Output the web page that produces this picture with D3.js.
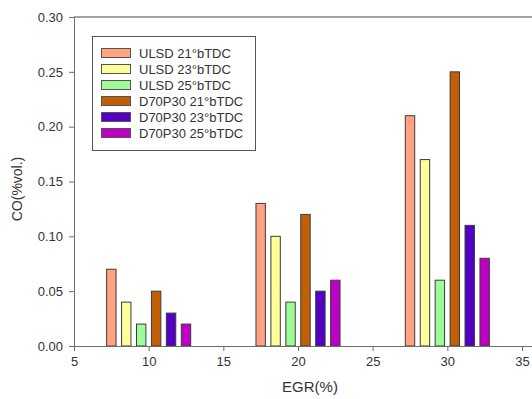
<!DOCTYPE html>
<html>
<head>
<meta charset="utf-8">
<script src="https://cdn.jsdelivr.net/npm/d3@7"></script>
<style>
  body { margin: 0; background: #fff; }
  text { font-family: "Liberation Sans", Arial, sans-serif; }
</style>
</head>
<body>
<div id="chart"></div>
<script>
// data
const egr = [10, 20, 30];
const seriesNames = ["ULSD 21°bTDC", "ULSD 23°bTDC", "ULSD 25°bTDC",
                     "D70P30 21°bTDC", "D70P30 23°bTDC", "D70P30 25°bTDC"];
const ulsd21 = [0.07, 0.13, 0.21];
const ulsd23 = [0.04, 0.10, 0.17];
const ulsd25 = [0.02, 0.04, 0.06];
const d70p30_21 = [0.05, 0.12, 0.25];
const d70p30_23 = [0.03, 0.05, 0.11];
const d70p30_25 = [0.02, 0.06, 0.08];
const seriesValues = [ulsd21, ulsd23, ulsd25, d70p30_21, d70p30_23, d70p30_25];
const xTicks = [5, 10, 15, 20, 25, 30, 35];
const yTicks = [0, 0.05, 0.10, 0.15, 0.20, 0.25, 0.30];

const colors = ["#ffa382", "#ffff99", "#9dfb9a", "#c05f05", "#5200c4", "#bc00c4"];
const axisColor = "#6e6e6e";

const W = 532, H = 399;
const plotLeft = 74, plotTop = 17, plotBottom = 346;

const svg = d3.select("#chart").append("svg")
  .attr("width", W).attr("height", H);

const x = d3.scaleLinear().domain([5, 35]).range([plotLeft, 522]);
const y = d3.scaleLinear().domain([0, 0.3]).range([plotBottom, plotTop]);
// position of each series inside a group, in EGR units
const offset = d3.scaleBand().domain(seriesNames).range([-3, 3])
  .paddingInner(0.37).paddingOuter(0.185);

// top frame line (plot runs off to the right)
svg.append("line")
  .attr("x1", plotLeft).attr("x2", W)
  .attr("y1", plotTop).attr("y2", plotTop)
  .attr("stroke", "#858585").attr("stroke-width", 1.5);

// bars
const bars = [];
seriesNames.forEach((s, i) => {
  egr.forEach((e, j) => bars.push({s: s, i: i, e: e, v: seriesValues[i][j]}));
});
svg.append("g").selectAll("rect").data(bars).join("rect")
  .attr("x", d => x(d.e + offset(d.s)))
  .attr("width", d => x(d.e + offset(d.s) + offset.bandwidth()) - x(d.e + offset(d.s)))
  .attr("y", d => y(d.v))
  .attr("height", d => y(0) - y(d.v))
  .attr("fill", d => colors[d.i])
  .attr("stroke", "#3c3c3c")
  .attr("stroke-width", 1);

// axes
const xAxis = svg.append("g")
  .attr("transform", "translate(0," + plotBottom + ")")
  .call(d3.axisBottom(x).tickValues(xTicks).tickFormat(d3.format("d"))
        .tickSizeOuter(0).tickSize(5).tickPadding(6));
xAxis.select(".domain").attr("d", "M" + plotLeft + ",0.5H" + W);

const yAxis = svg.append("g")
  .attr("transform", "translate(" + plotLeft + ",0)")
  .call(d3.axisLeft(y).tickValues(yTicks).tickFormat(d3.format(".2f"))
        .tickSizeOuter(0).tickSize(5).tickPadding(6));

[xAxis, yAxis].forEach(a => {
  a.selectAll(".domain, line").attr("stroke", axisColor);
  a.selectAll("text").attr("fill", "#333").style("font-size", "13px")
    .style("font-family", "'Liberation Sans', Arial, sans-serif");
});

// axis titles
svg.append("text")
  .attr("x", 310).attr("y", 392)
  .attr("text-anchor", "middle")
  .attr("fill", "#333")
  .style("font-size", "15px")
  .text("EGR(%)");

svg.append("text")
  .attr("transform", "translate(22,189) rotate(-90)")
  .attr("text-anchor", "middle")
  .attr("fill", "#333")
  .style("font-size", "14px")
  .text("CO(%vol.)");

// legend
const lg = svg.append("g");
lg.append("rect")
  .attr("x", 92.5).attr("y", 36.5)
  .attr("width", 163).attr("height", 114)
  .attr("fill", "#fff").attr("stroke", "#555").attr("stroke-width", 1);

const items = lg.selectAll("g.item").data(seriesNames).join("g")
  .attr("class", "item")
  .attr("transform", (d, i) => "translate(0," + (48 + i * 16) + ")");
items.append("rect")
  .attr("x", 101.5).attr("y", 0.5)
  .attr("width", 29).attr("height", 9)
  .attr("fill", (d, i) => colors[i])
  .attr("stroke", "#555").attr("stroke-width", 1);
items.append("text")
  .attr("x", 139).attr("y", 10)
  .attr("fill", "#333")
  .style("font-size", "13px")
  .text(d => d);
</script>
</body>
</html>
